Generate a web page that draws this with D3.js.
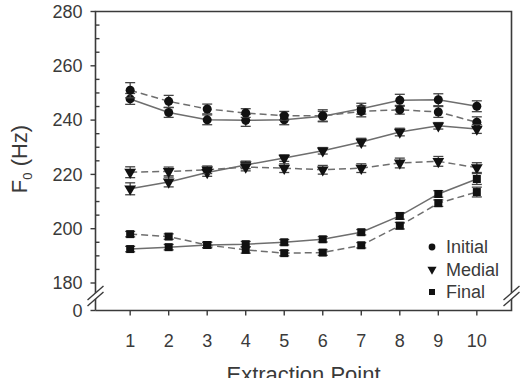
<!DOCTYPE html>
<html>
<head>
<meta charset="utf-8">
<script src="https://cdn.jsdelivr.net/npm/d3@7"></script>
<style>
  body { margin: 0; background: #fff; }
  text { font-family: "Liberation Sans", Arial, sans-serif; fill: #3a3a3a; }
</style>
</head>
<body>
<svg width="527" height="378"></svg>
<script>
// Data
let points = [1, 2, 3, 4, 5, 6, 7, 8, 9, 10];

let initialSolid  = [247.8, 242.8, 240.1, 239.9, 240.1, 241.4, 244.2, 247.3, 247.5, 245.1];
let initialDashed = [251.0, 246.9, 244.1, 242.6, 241.6, 241.6, 243.2, 243.8, 243.0, 239.2];
let medialSolid   = [214.7, 217.2, 220.7, 223.5, 226.0, 228.7, 231.9, 235.6, 237.9, 236.7];
let medialDashed  = [220.8, 221.1, 221.7, 222.7, 222.3, 221.7, 222.3, 224.2, 224.8, 222.5];
let finalSolid    = [192.5, 193.2, 194.0, 194.3, 195.0, 196.1, 198.7, 204.7, 212.8, 218.3];
let finalDashed   = [198.0, 197.1, 194.0, 192.2, 191.0, 191.2, 193.9, 201.1, 209.4, 213.5];

// standard errors (Hz)
let initialSolidErr  = [2.0, 1.8, 1.8, 2.2, 1.8, 1.8, 2.0, 2.2, 2.2, 2.0];
let initialDashedErr = [2.8, 2.2, 1.8, 1.6, 1.6, 2.2, 2.0, 1.6, 2.0, 2.0];
let medialSolidErr   = [2.2, 1.8, 1.4, 1.4, 1.2, 1.2, 1.4, 1.4, 1.2, 1.6];
let medialDashedErr  = [2.0, 1.6, 1.4, 1.4, 1.6, 1.6, 1.6, 1.8, 1.8, 1.8];
let finalSolidErr    = [1.0, 1.0, 1.0, 1.0, 1.0, 1.0, 1.0, 1.2, 1.2, 2.0];
let finalDashedErr   = [1.0, 1.0, 1.0, 1.2, 1.0, 1.0, 1.0, 1.2, 1.2, 1.8];

let yTicks = [180, 200, 220, 240, 260, 280];
let legendLabels = ['Initial', 'Medial', 'Final'];

let series = [
  { vals: initialSolid,  err: initialSolidErr,  shape: 'circle',   dashed: false },
  { vals: initialDashed, err: initialDashedErr, shape: 'circle',   dashed: true },
  { vals: medialSolid,   err: medialSolidErr,   shape: 'triangle', dashed: false },
  { vals: medialDashed,  err: medialDashedErr,  shape: 'triangle', dashed: true },
  { vals: finalSolid,    err: finalSolidErr,    shape: 'square',   dashed: false },
  { vals: finalDashed,   err: finalDashedErr,   shape: 'square',   dashed: true }
];

let svg = d3.select('svg');

// plot frame
let frameLeft = 95.5, frameRight = 511.5, frameTop = 11.5, frameBottom = 310.5;

let x = d3.scaleLinear().domain([0.1, 10.9]).range([frameLeft, frameRight]);
let y = d3.scaleLinear().domain([180, 280]).range([283, frameTop]);
let yZero = frameBottom;

let axisColor = '#3a3a3a';

// frame lines
svg.append('path')
    .attr('d', `M${frameLeft},${frameBottom}V${frameTop}H${frameRight}V${frameBottom}H${frameLeft}`)
    .attr('stroke', axisColor)
    .attr('stroke-width', 1.6)
    .attr('fill', 'none');

// y axis: major ticks out, minor ticks in
let yAxis = svg.append('g').attr('transform', `translate(${frameLeft},0)`);
yAxis.selectAll('line.major')
  .data(yTicks)
  .enter().append('line')
    .attr('class', 'major')
    .attr('x1', -5).attr('x2', 0)
    .attr('y1', d => y(d)).attr('y2', d => y(d))
    .attr('stroke', axisColor).attr('stroke-width', 1.4);
yAxis.selectAll('line.minor')
  .data(d3.range(185, 280, 5).filter(d => d % 20 !== 0))
  .enter().append('line')
    .attr('class', 'minor')
    .attr('x1', 0).attr('x2', 4)
    .attr('y1', d => y(d)).attr('y2', d => y(d))
    .attr('stroke', axisColor).attr('stroke-width', 1.4);
yAxis.selectAll('text')
  .data(yTicks)
  .enter().append('text')
    .attr('x', -13)
    .attr('y', d => y(d))
    .attr('dy', '0.35em')
    .attr('text-anchor', 'end')
    .attr('font-size', 18)
    .text(d => d);
// zero tick below the break
yAxis.append('line')
    .attr('x1', -5).attr('x2', 0)
    .attr('y1', yZero).attr('y2', yZero)
    .attr('stroke', axisColor).attr('stroke-width', 1.4);
yAxis.append('text')
    .attr('x', -13).attr('y', yZero).attr('dy', '0.35em')
    .attr('text-anchor', 'end').attr('font-size', 18)
    .text('0');

// x axis ticks
let xAxis = svg.append('g').attr('transform', `translate(0,${frameBottom})`);
xAxis.selectAll('line')
  .data(points)
  .enter().append('line')
    .attr('x1', d => x(d)).attr('x2', d => x(d))
    .attr('y1', 0).attr('y2', 5)
    .attr('stroke', axisColor).attr('stroke-width', 1.4);
xAxis.selectAll('text')
  .data(points)
  .enter().append('text')
    .attr('x', d => x(d))
    .attr('y', 36)
    .attr('text-anchor', 'middle')
    .attr('font-size', 18)
    .text(d => d);

// axis break marks
let breakY = 296;
[frameLeft, frameRight].forEach(bx => {
  let g = svg.append('g');
  g.append('polygon')
      .attr('points', `${bx-8},${breakY+4} ${bx+8},${breakY-10} ${bx+8},${breakY-4} ${bx-8},${breakY+10}`)
      .attr('fill', '#fff');
  [-3, 3].forEach(off => {
    g.append('line')
        .attr('x1', bx - 8).attr('y1', breakY + 7 + off)
        .attr('x2', bx + 8).attr('y2', breakY - 7 + off)
        .attr('stroke', axisColor).attr('stroke-width', 1.4);
  });
});

// axis titles
svg.append('text')
    .attr('x', x(5.5))
    .attr('y', 382)
    .attr('text-anchor', 'middle')
    .attr('font-size', 22)
    .text('Extraction Point');

let yTitle = svg.append('text')
    .attr('transform', 'translate(27,159) rotate(-90)')
    .attr('text-anchor', 'middle')
    .attr('font-size', 22);
yTitle.append('tspan').text('F');
yTitle.append('tspan').attr('font-size', 13).attr('dy', 5).text('0');
yTitle.append('tspan').attr('dy', -5).text(' (Hz)');

// symbols
let symbolType = {
  circle: d3.symbolCircle,
  triangle: d3.symbolTriangle,
  square: d3.symbolSquare
};
function marker(shape, size) {
  return d3.symbol().type(symbolType[shape]).size(size)();
}

let line = d3.line()
    .x((d, i) => x(points[i]))
    .y(d => y(d));

let plot = svg.append('g');

series.forEach(s => {
  plot.append('path')
      .attr('d', line(s.vals))
      .attr('fill', 'none')
      .attr('stroke', '#6e6e6e')
      .attr('stroke-width', 1.5)
      .attr('stroke-dasharray', s.dashed ? '7,4' : null);
});

series.forEach(s => {
  let g = plot.append('g');
  let eb = g.selectAll('g.eb')
    .data(s.vals.map((v, i) => ({ v: v, e: s.err[i], p: points[i] })))
    .enter().append('g')
      .attr('stroke', '#444')
      .attr('stroke-width', 1.3);
  eb.append('line')
      .attr('x1', d => x(d.p)).attr('x2', d => x(d.p))
      .attr('y1', d => y(d.v - d.e)).attr('y2', d => y(d.v + d.e));
  eb.append('line')
      .attr('x1', d => x(d.p) - 5).attr('x2', d => x(d.p) + 5)
      .attr('y1', d => y(d.v + d.e)).attr('y2', d => y(d.v + d.e));
  eb.append('line')
      .attr('x1', d => x(d.p) - 5).attr('x2', d => x(d.p) + 5)
      .attr('y1', d => y(d.v - d.e)).attr('y2', d => y(d.v - d.e));

  g.selectAll('path')
    .data(s.vals)
    .enter().append('path')
      .attr('d', marker(s.shape, s.shape === 'triangle' ? 60 : 64))
      .attr('transform', (d, i) => `translate(${x(points[i])},${y(d)})` + (s.shape === 'triangle' ? ' rotate(180)' : ''))
      .attr('fill', '#111');
});

// legend
let legendShapes = ['circle', 'triangle', 'square'];
let legend = svg.append('g').attr('transform', 'translate(432,247)');
legendLabels.forEach((lab, i) => {
  let row = legend.append('g').attr('transform', `translate(0,${i * 22.5})`);
  row.append('path')
      .attr('d', marker(legendShapes[i], 36))
      .attr('transform', legendShapes[i] === 'triangle' ? 'rotate(180)' : null)
      .attr('fill', '#111');
  row.append('text')
      .attr('x', 14)
      .attr('dy', '0.35em')
      .attr('font-size', 18)
      .text(lab);
});
</script>
</body>
</html>
